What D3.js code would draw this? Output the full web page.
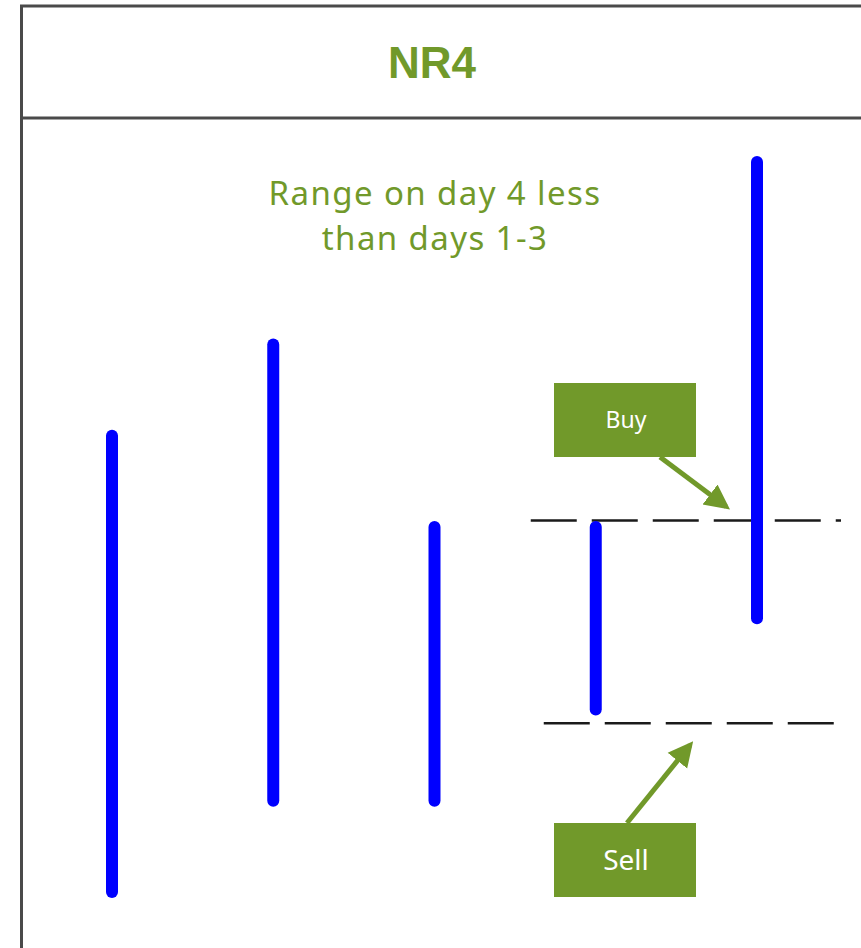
<!DOCTYPE html>
<html>
<head>
<meta charset="utf-8">
<script src="https://cdn.jsdelivr.net/npm/d3@7"></script>
<style>
  html, body { margin: 0; padding: 0; background: #fff; }
  svg { display: block; }
</style>
</head>
<body>
<div id="viz"></div>
<script>
const width = 861,
    height = 948,
    green = "#71992a";

// four narrowing days, then the breakout day
const days = [1, 2, 3, 4, 5];
const highs = [5, 6, 4, 4, 8];
const lows = [0, 1, 1, 2, 3];
const buyLevel = 4.07,
    sellLevel = 1.85;
const subtitle = ["Range on day 4 less", "than days 1-3"];

const svg = d3.select("#viz").append("svg")
    .attr("width", width)
    .attr("height", height);

const x = d3.scalePoint()
    .domain(days)
    .range([112, 757]);

const y = d3.scaleLinear()
    .domain([0, 8])
    .range([892, 162]);

// frame + header
svg.append("rect")
    .attr("x", 21.5)
    .attr("y", 6)
    .attr("width", 900)
    .attr("height", 1000)
    .attr("fill", "none")
    .attr("stroke", "#4a4a4a")
    .attr("stroke-width", 3);

svg.append("line")
    .attr("x1", 21.5).attr("x2", width)
    .attr("y1", 118).attr("y2", 118)
    .attr("stroke", "#4a4a4a")
    .attr("stroke-width", 3);

svg.append("text")
    .attr("x", 432)
    .attr("y", 78)
    .attr("text-anchor", "middle")
    .attr("font-family", "Liberation Sans, Arial, sans-serif")
    .attr("font-weight", "bold")
    .attr("font-size", 44)
    .attr("fill", green)
    .text("NR4");

svg.append("g")
    .selectAll("text")
    .data(subtitle)
    .enter().append("text")
    .attr("x", 435)
    .attr("y", (d, i) => 205 + i * 45)
    .attr("text-anchor", "middle")
    .attr("font-family", "Noto Sans, sans-serif")
    .attr("font-size", 33)
    .attr("letter-spacing", 1.4)
    .attr("fill", green)
    .text(d => d);

// breakout levels
const levels = [
    { v: buyLevel, x1: x(4) - 65, x2: x(5) + 84 },
    { v: sellLevel, x1: x(4) - 52, x2: x(5) + 78 }
];

svg.append("g")
    .selectAll("line")
    .data(levels)
    .enter().append("line")
    .attr("x1", d => d.x1)
    .attr("x2", d => d.x2)
    .attr("y1", d => y(d.v))
    .attr("y2", d => y(d.v))
    .attr("stroke", "#1a1a1a")
    .attr("stroke-width", 2.5)
    .attr("stroke-dasharray", "46 15");

// price bars
svg.append("g")
    .selectAll("line")
    .data(days)
    .enter().append("line")
    .attr("x1", d => x(d))
    .attr("x2", d => x(d))
    .attr("y1", (d, i) => y(highs[i]))
    .attr("y2", (d, i) => y(lows[i]))
    .attr("stroke", "#0000ff")
    .attr("stroke-width", 12)
    .attr("stroke-linecap", "round");

// callouts
svg.append("defs").append("marker")
    .attr("id", "head")
    .attr("viewBox", "0 0 10 10")
    .attr("refX", 8)
    .attr("refY", 5)
    .attr("markerWidth", 5)
    .attr("markerHeight", 5.5)
    .attr("markerUnits", "strokeWidth")
    .attr("orient", "auto")
    .append("path")
    .attr("d", "M0,0 L10,5 L0,10 Z")
    .attr("fill", green);

const callouts = [
    { label: "Buy", size: 23, top: 383, from: [660, 457], to: [726, y(buyLevel) - 14] },
    { label: "Sell", size: 28, top: 823, from: [627, 823], to: [690, y(sellLevel) + 22] }
];

const c = svg.append("g")
    .selectAll("g")
    .data(callouts)
    .enter().append("g");

c.append("line")
    .attr("x1", d => d.from[0])
    .attr("y1", d => d.from[1])
    .attr("x2", d => d.to[0])
    .attr("y2", d => d.to[1])
    .attr("stroke", green)
    .attr("stroke-width", 5)
    .attr("marker-end", "url(#head)");

c.append("rect")
    .attr("x", 554)
    .attr("y", d => d.top)
    .attr("width", 142)
    .attr("height", 74)
    .attr("fill", green);

c.append("text")
    .attr("x", 626)
    .attr("y", d => d.top + 37)
    .attr("dy", "0.35em")
    .attr("text-anchor", "middle")
    .attr("font-family", "Noto Sans, sans-serif")
    .attr("font-size", d => d.size)
    .attr("fill", "#fff")
    .text(d => d.label);
</script>
</body>
</html>
